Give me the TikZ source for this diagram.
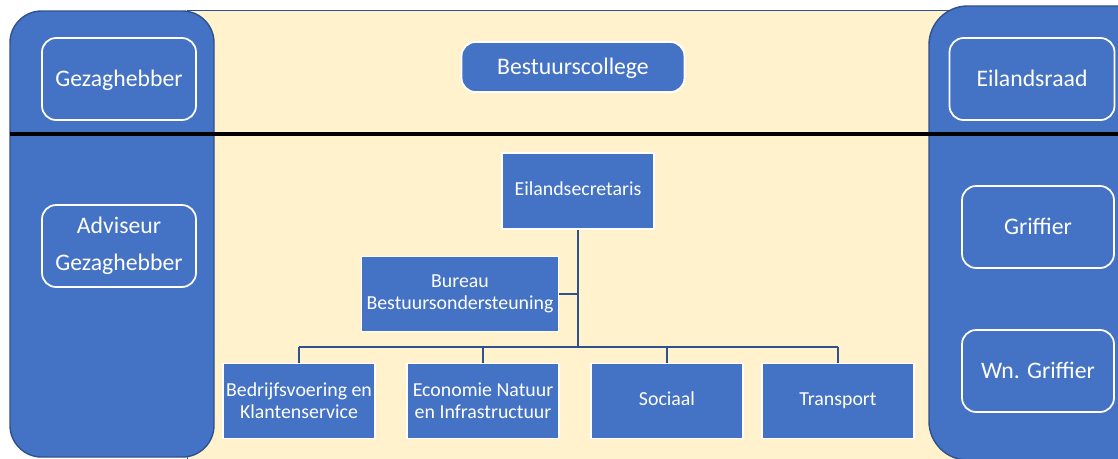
\documentclass[tikz,border=0pt]{standalone}
\usepackage{fontspec}
\setmainfont{Carlito}
\definecolor{panelblue}{HTML}{4472C4}
\definecolor{edgeblue}{HTML}{2F528F}
\definecolor{paleyellow}{HTML}{FFF2CC}
\tikzset{
  panel/.style={fill=panelblue, draw=edgeblue, line width=0.8pt},
  rolebox/.style={draw=white, line width=1pt, rounded corners=8pt, text=white,
    font=\fontsize{13.5}{21}\selectfont, align=center, inner sep=0pt,
    minimum height=1.64cm},
  unitbox/.style={fill=panelblue, draw=white, line width=1pt, text=white,
    font=\fontsize{11.3}{12.6}\selectfont, align=center, inner sep=0pt,
    minimum width=3.04cm, minimum height=1.5cm},
  link/.style={draw=edgeblue, line width=1.2pt}
}
\begin{document}
\begin{tikzpicture}[x=0.02cm,y=-0.02cm]
    \useasboundingbox (0,0) rectangle (1118,458);
    \clip (0,0) rectangle (1118,458);

    % background and side panels
    \fill[paleyellow, draw=edgeblue, line width=0.5pt] (187,10) rectangle (1130,470);
    \path[panel, rounded corners=18pt] (10,11) rectangle (214,457);
    \path[panel, rounded corners=22pt] (929,6) rectangle (1160,460);
    \draw[black, line width=2pt] (10,134) -- (1118,134);

    % side roles
    \node[rolebox, minimum width=3.08cm] (gezag)    at (119,79)  {\strut Gezaghebber};
    \node[rolebox, minimum width=3.08cm] (adviseur) at (119,246) {Adviseur\\Gezaghebber};
    \node[rolebox, minimum width=3.3cm]  (raad)     at (1032,79) {\strut Eilandsraad};
    \node[rolebox, minimum width=3.04cm] (griffier) at (1038,227) {\strut Griffier};
    \node[rolebox, minimum width=3.04cm] (wngriffier) at (1038,371) {\strut Wn. Griffier};

    % bestuur
    \node[rolebox, fill=panelblue, minimum width=4.46cm, minimum height=1cm] (college) at (573,67) {\strut Bestuurscollege};

    % organisation
    \node[unitbox, minimum height=1.52cm] (secretaris) at (578,191) {\strut Eilandsecretaris};
    \node[unitbox, minimum width=3.94cm] (bureau) at (460,294) {Bureau\\Bestuursondersteuning};
    \node[unitbox] (bedrijf)   at (299,401) {Bedrijfsvoering en\\Klantenservice};
    \node[unitbox] (economie)  at (483,401) {Economie Natuur\\en Infrastructuur};
    \node[unitbox] (sociaal)   at (667,401) {\strut Sociaal};
    \node[unitbox] (transport) at (838,401) {\strut Transport};

    \coordinate (bus) at (578,347);
    \draw[link] (secretaris.south) -- (bus);
    \draw[link] (bureau.east) -- (bureau.east -| bus);
    \draw[link] (bedrijf.north |- bus) -- (transport.north |- bus);
    \foreach \n in {bedrijf,economie,sociaal,transport}
        \draw[link] (\n.north) -- (\n.north |- bus);

\end{tikzpicture}
\end{document}
